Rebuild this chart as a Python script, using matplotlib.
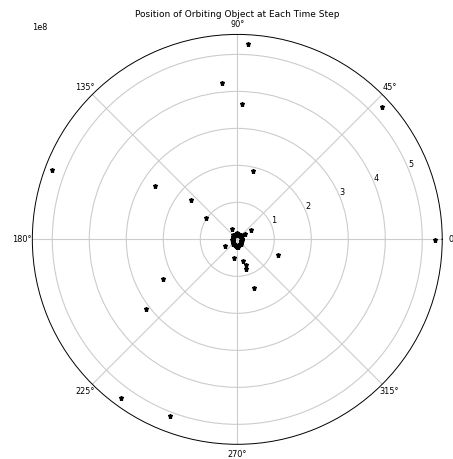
import numpy as np
import matplotlib
matplotlib.use("Agg")
import matplotlib.pyplot as plt

# Outlying positions: angle (degrees), radius (units of 1e8)
outer_theta_deg = [86.9, 95.6, 88.1, 76.9, 42.4, 359.9, 159.4, 147.0, 139.5, 145.9,
                   208.2, 217.5, 233.8, 249.1, 338.9, 289.4, 260.0, 284.7, 288.1,
                   285.6, 208.0, 116.0, 34.8, 33.0]
outer_r_e8 = [5.28, 4.24, 3.65, 1.91, 5.31, 5.34, 5.34, 2.66, 1.65, 1.01,
              2.27, 3.11, 5.31, 5.12, 1.18, 1.39, 0.52, 0.61, 0.73,
              0.84, 0.37, 0.31, 0.44, 0.25]

# Dense cluster of positions near the centre
inner_theta_deg = [0, 10, 20, 30, 40, 50, 60, 70, 80, 90, 100, 110, 120, 130,
                   140, 150, 160, 170, 180, 190, 200, 210, 220, 230, 240, 250,
                   260, 270, 280, 290, 300, 310, 320, 330, 340, 350,
                   5, 45, 95, 135, 185, 225, 265, 275, 315, 355]
inner_r_e8 = [0.12, 0.12, 0.12, 0.13, 0.13, 0.13, 0.14, 0.14, 0.14, 0.14, 0.14,
              0.14, 0.13, 0.13, 0.13, 0.12, 0.12, 0.12, 0.12, 0.12, 0.13, 0.13,
              0.14, 0.15, 0.16, 0.17, 0.18, 0.18, 0.18, 0.17, 0.16, 0.15, 0.14,
              0.13, 0.12, 0.12,
              0.13, 0.15, 0.16, 0.15, 0.13, 0.16, 0.2, 0.2, 0.16, 0.13]

theta = np.deg2rad(np.array(outer_theta_deg + inner_theta_deg))
r = np.array(outer_r_e8 + inner_r_e8) * 1e8

fig = plt.figure(figsize=(4.53, 4.59), dpi=100)
ax = fig.add_axes([0.0713, 0.032, 0.905, 0.893], projection='polar')
ax.plot(theta, r, linestyle='none', marker='*', color='black', markersize=3.6)
ax.set_rlim(0, 5.54e8)
ax.set_rticks([1e8, 2e8, 3e8, 4e8, 5e8])
ax.grid(True, color='#cccccc', linewidth=0.8)
ax.tick_params(axis='both', labelsize=5.9)
ax.tick_params(axis='x', length=0, pad=0.5)
ax.yaxis.get_offset_text().set_fontsize(5.9)
for s in ax.spines.values():
    s.set_linewidth(0.7)
ax.set_title('Position of Orbiting Object at Each Time Step', fontsize=6.5, pad=2)

fig.savefig('out.png', dpi=100)
